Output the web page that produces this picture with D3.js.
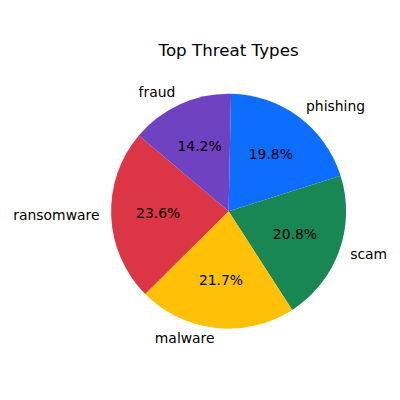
<!DOCTYPE html>
<html><head><meta charset="utf-8">
<script src="https://cdn.jsdelivr.net/npm/d3@7"></script>
<style>body{margin:0;background:#fff}svg{display:block}</style>
</head><body>
<script>
const categories = ["phishing", "scam", "malware", "ransomware", "fraud"];
const values = [19.8, 20.8, 21.7, 23.6, 14.2];
const colors = ["#0d6efd", "#198754", "#ffc107", "#dc3545", "#6f42c1"];
const title = "Top Threat Types";

const W = 400, H = 400, cx = 228.6, cy = 211.2, R = 117.5;
const rot = 1.2 * Math.PI / 180;
const font = "DejaVu Sans, sans-serif";
const fs = 13.9;
const svg = d3.select("body").append("svg").attr("width", W).attr("height", H);
svg.append("rect").attr("width", W).attr("height", H).attr("fill", "#fff");

const data = categories.map((c, i) => ({cat: c, value: values[i], color: colors[i]}));
const total = d3.sum(values);
const pie = d3.pie().value(d => d.value).sort(null).startAngle(rot).endAngle(2 * Math.PI + rot);
const arcs = pie(data);
const arc = d3.arc().innerRadius(0).outerRadius(R);
const g = svg.append("g").attr("transform", `translate(${cx},${cy})`);

g.selectAll("path").data(arcs).join("path")
  .attr("d", arc).attr("fill", d => d.data.color);

const mid = d => (d.startAngle + d.endAngle) / 2;
const off = 0.27 * fs;
g.selectAll("text.pct").data(arcs).join("text").attr("class", "pct")
  .attr("x", d => 0.6 * R * Math.sin(mid(d)))
  .attr("y", d => -0.6 * R * Math.cos(mid(d)) + off)
  .attr("text-anchor", "middle")
  .attr("font-family", font).attr("font-size", fs + "px").attr("fill", "#000")
  .text(d => (d.data.value / total * 100).toFixed(1) + "%");

g.selectAll("text.lbl").data(arcs).join("text").attr("class", "lbl")
  .attr("x", d => 1.1 * R * Math.sin(mid(d)))
  .attr("y", d => -1.1 * R * Math.cos(mid(d)) + off)
  .attr("text-anchor", d => Math.sin(mid(d)) >= 0 ? "start" : "end")
  .attr("font-family", font).attr("font-size", fs + "px").attr("fill", "#000")
  .text(d => d.data.cat);

svg.append("text").attr("x", cx).attr("y", 56)
  .attr("text-anchor", "middle").attr("font-family", font).attr("font-size", "16.7px")
  .attr("fill", "#000").text(title);
</script>
</body></html>
